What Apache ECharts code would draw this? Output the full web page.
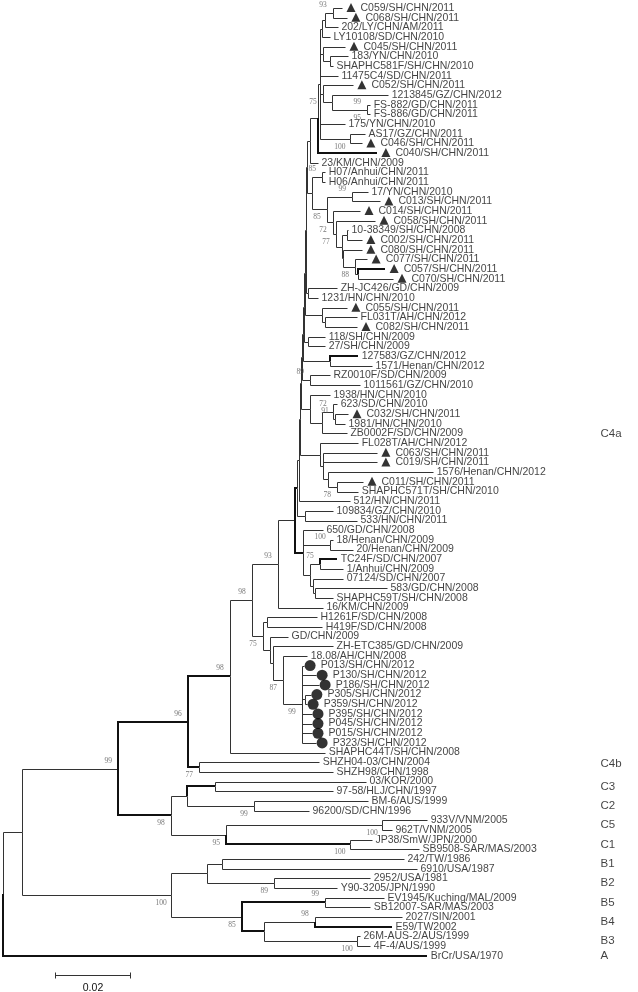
<!DOCTYPE html>
<html><head><meta charset="utf-8">
<script src="https://cdn.jsdelivr.net/npm/echarts@6/dist/echarts.min.js"></script>
<style>html,body{margin:0;padding:0;background:#fff}#c{width:638px;height:992px}</style>
</head><body><div id="c"></div>
<script>
// ---------- DATA ----------
const leafNames = ["C059/SH/CHN/2011","C068/SH/CHN/2011","202/LY/CHN/AM/2011","LY10108/SD/CHN/2010","C045/SH/CHN/2011","183/YN/CHN/2010","SHAPHC581F/SH/CHN/2010","11475C4/SD/CHN/2011","C052/SH/CHN/2011","1213845/GZ/CHN/2012",
"FS-882/GD/CHN/2011","FS-886/GD/CHN/2011","175/YN/CHN/2010","AS17/GZ/CHN/2011","C046/SH/CHN/2011","C040/SH/CHN/2011","23/KM/CHN/2009","H07/Anhui/CHN/2011","H06/Anhui/CHN/2011","17/YN/CHN/2010",
"C013/SH/CHN/2011","C014/SH/CHN/2011","C058/SH/CHN/2011","10-38349/SH/CHN/2008","C002/SH/CHN/2011","C080/SH/CHN/2011","C077/SH/CHN/2011","C057/SH/CHN/2011","C070/SH/CHN/2011","ZH-JC426/GD/CHN/2009",
"1231/HN/CHN/2010","C055/SH/CHN/2011","FL031T/AH/CHN/2012","C082/SH/CHN/2011","118/SH/CHN/2009","27/SH/CHN/2009","127583/GZ/CHN/2012","1571/Henan/CHN/2012","RZ0010F/SD/CHN/2009","1011561/GZ/CHN/2010",
"1938/HN/CHN/2010","623/SD/CHN/2010","C032/SH/CHN/2011","1981/HN/CHN/2010","ZB0002F/SD/CHN/2009","FL028T/AH/CHN/2012","C063/SH/CHN/2011","C019/SH/CHN/2011","1576/Henan/CHN/2012","C011/SH/CHN/2011",
"SHAPHC571T/SH/CHN/2010","512/HN/CHN/2011","109834/GZ/CHN/2010","533/HN/CHN/2011","650/GD/CHN/2008","18/Henan/CHN/2009","20/Henan/CHN/2009","TC24F/SD/CHN/2007","1/Anhui/CHN/2009","07124/SD/CHN/2007",
"583/GD/CHN/2008","SHAPHC59T/SH/CHN/2008","16/KM/CHN/2009","H1261F/SD/CHN/2008","H419F/SD/CHN/2008","GD/CHN/2009","ZH-ETC385/GD/CHN/2009","18.08/AH/CHN/2008","P013/SH/CHN/2012","P130/SH/CHN/2012",
"P186/SH/CHN/2012","P305/SH/CHN/2012","P359/SH/CHN/2012","P395/SH/CHN/2012","P045/SH/CHN/2012","P015/SH/CHN/2012","P323/SH/CHN/2012","SHAPHC44T/SH/CHN/2008","SHZH04-03/CHN/2004","SHZH98/CHN/1998",
"03/KOR/2000","97-58/HLJ/CHN/1997","BM-6/AUS/1999","96200/SD/CHN/1996","933V/VNM/2005","962T/VNM/2005","JP38/SmW/JPN/2000","SB9508-SAR/MAS/2003","242/TW/1986","6910/USA/1987",
"2952/USA/1981","Y90-3205/JPN/1990","EV1945/Kuching/MAL/2009","SB12007-SAR/MAS/2003","2027/SIN/2001","E59/TW2002","26M-AUS-2/AUS/1999","4F-4/AUS/1999","BrCr/USA/1970"];

const leafParents = ["na1","na1","na2","na3","na4","na5","na5","nT2","nC52","nc1",
"nFS","nFS","nT2","nAS","nAS","nT1","nTop","nH","nH","n17",
"n17","nG1","nG2","nG4","nG4","nG5","nG6","nG7","nG7","nZ",
"nZ","nC55","nFC","nFC","n118","n118","n127","n127","nRZ","nRZ",
"n1938","n623","nC32","nC32","nZB","nFL","nC63","nC63","n1576","nC11",
"nC11","B2","n109","n109","nCc","nHen","nHen","nTC","nTC","n07b",
"n07","n07","n93","nH12","nH12","nGD","nZH","n87","nP","nP",
"nP","nP35","nP35","nP","nP","nP","nP","n98b","nC4b","nC4b",
"nC3","nC3","nC2","nC2","nC5","nC5","nC1","nC1","nB1","nB1",
"nB2","nB2","nB5","nB5","nB4","nB4","nB3","nB3","root"];

// distance from root (substitutions/site) of each leaf tip
const leafDepths = [0.0904,0.0917,0.0893,0.0872,0.0912,0.0920,0.0880,0.0893,0.0933,0.1027,
0.0979,0.0979,0.0912,0.0965,0.0957,0.0997,0.0840,0.0859,0.0859,0.0973,
0.1005,0.0952,0.0992,0.0920,0.0957,0.0957,0.0971,0.1019,0.1040,0.0891,
0.0840,0.0917,0.0944,0.0944,0.0859,0.0859,0.0947,0.0984,0.0872,0.0952,
0.0872,0.0891,0.0920,0.0912,0.0917,0.0947,0.0997,0.0997,0.1147,0.0960,
0.0947,0.0925,0.0880,0.0944,0.0853,0.0880,0.0933,0.0891,0.0907,0.0907,
0.1024,0.0880,0.0853,0.0837,0.0851,0.0760,0.0880,0.0811,0.0803,0.0835,
0.0843,0.0821,0.0811,0.0824,0.0824,0.0824,0.0835,0.0859,0.0843,0.0880,
0.0968,0.0880,0.0973,0.0816,0.1131,0.1037,0.0984,0.1109,0.1069,0.1104,
0.0979,0.0891,0.1016,0.0979,0.1064,0.1037,0.0952,0.0979,0.1131];

const triangleRows = [0,1,4,8,14,15,20,21,22,24,25,26,27,28,31,33,42,46,47,49];
const circleRows = [68,69,70,71,72,73,74,75,76];

const nodeNames = ["root","nEV","nB","nB12","nB1","nB2","nB345","nB5","nB34","nB4","nB3","n99","nC","nC23","nC3","nC2","nC15","nC5","nC1","n96","nC4b","n98b","n98a","n93","n75","nH12","nGD","nZH","n87","nP","nP35","B0","nCc","nHen","n75b","nTC","n07b","n07","B1","n109","B2","B3","nFL","nC63","n1576","nC11","B4","n1938","nZB","n623","nC32","B5","nRZ","B6","n127","B7","n118","B8","nC55","nFC","B9","nZ","B10","nTop","nT1","nT2","na3","na2","na1","na4","na5","nC52","nc1","nFS","nAS","nE","nH","nF","n17","nG1","nG2","nG3","nG4","nG5","nG6","nG7"];
const nodeParents = ["","root","nEV","nB","nB12","nB12","nB","nB345","nB345","nB34","nB34","nEV","n99","nC","nC23","nC23","nC","nC15","nC15","n99","n96","n96","n98b","n98a","n98a","n75","n75","nGD","nZH","n87","nP","n93","B0","nCc","nCc","n75b","n75b","n07b","B0","B1","B1","B2","B3","nFL","nC63","n1576","B3","B4","n1938","nZB","n623","B4","B5","B5","B6","B6","B7","B7","B8","nC55","B8","B9","B9","B10","nTop","nT1","nT2","na3","na2","nT2","na4","nT2","nC52","nc1","nT2","B10","nE","nE","nF","nF","nG1","nG2","nG3","nG3","nG5","nG6"];
const nodeDepths = [0,0.0051,0.0448,0.0544,0.0584,0.0723,0.0637,0.0859,0.0696,0.0832,0.0944,0.0307,0.0448,0.0491,0.0565,0.0669,0.0595,0.1011,0.0925,0.0493,0.0523,0.0605,0.0664,0.0733,0.0693,0.0704,0.0712,0.0720,0.0747,0.0797,0.0805,0.0779,0.0800,0.0872,0.0819,0.0845,0.0827,0.0832,0.0784,0.0805,0.0789,0.0792,0.0845,0.0853,0.0867,0.0891,0.0795,0.0819,0.0851,0.0880,0.0885,0.0797,0.0819,0.0800,0.0872,0.0803,0.0813,0.0805,0.0851,0.0859,0.0808,0.0813,0.0811,0.0819,0.0840,0.0845,0.0851,0.0859,0.0880,0.0853,0.0872,0.0853,0.0877,0.0971,0.0925,0.0824,0.0851,0.0864,0.0931,0.0880,0.0888,0.0904,0.0917,0.0907,0.0939,0.0947];

// branches drawn heavier in the figure (named by their child)
const boldBranches = ["BrCr/USA/1970","nC1","nC3","nB5","nB34","E59/TW2002","C040/SH/CHN/2011","C057/SH/CHN/2011","TC24F/SD/CHN/2007","127583/GZ/CHN/2012","B1","nCc","n96","n98b","nC4b","nC"];

const bootNodes = ["na1","nC52","nFS","nFS","nAS","nH","n17","nF","nG1","nG2","nG6","nRZ","n623","nC32","nC11","nHen","nTC","n93","n98a","n75","n87","nP","n98b","n96","n99","nC4b","nC","nC2","nC15","nC5","nC1","nB","nB2","nB5","nB4","nB345","nB3"];
const bootValues = [93,75,99,95,100,85,99,85,72,77,88,89,72,91,78,100,75,93,98,75,87,99,98,96,99,77,98,99,95,100,100,100,89,99,98,85,100];
const bootSides = ["a","b","a","b","b","a","a","b","b","b","b","a","a","a","b","a","a","a","a","b","b","b","a","a","a","b","b","b","b","b","b","b","b","a","a","b","b"];

const groupNames = ["C4a","C4b","C3","C2","C5","C1","B1","B2","B5","B4","B3","A"];
const groupRows = [44,78.2,80.5,82.5,84.5,86.5,88.5,90.5,92.5,94.5,96.5,98];
const groupDepth = 0.1592;

const scaleBarStart = 0.0139, scaleBarLength = 0.02, scaleBarRow = 100, scaleBarText = "0.02";

// ---------- LAYOUT (topology -> y positions) ----------
const idx = {}; nodeNames.forEach((n,i)=>idx[n]=i);
const kids = nodeNames.map(()=>[]);
leafNames.forEach((n,i)=>kids[idx[leafParents[i]]].push({leaf:true,i}));
nodeNames.forEach((n,i)=>{ if(nodeParents[i]) kids[idx[nodeParents[i]]].push({leaf:false,i}); });
const nodeY = [];
function yOf(c){ return c.leaf ? c.i : getY(c.i); }
function getY(i){
  if(nodeY[i]!==undefined) return nodeY[i];
  const ys = kids[i].map(yOf);
  nodeY[i] = (Math.min(...ys)+Math.max(...ys))/2;
  return nodeY[i];
}
nodeNames.forEach((n,i)=>getY(i));

const boldSet = new Set(boldBranches);
const branches = [];
leafNames.forEach((n,i)=>{ const p=idx[leafParents[i]]; branches.push([nodeDepths[p], nodeY[p], leafDepths[i], i, boldSet.has(n)?2:1]); });
nodeNames.forEach((n,i)=>{ if(nodeParents[i]){ const p=idx[nodeParents[i]]; branches.push([nodeDepths[p], nodeY[p], nodeDepths[i], nodeY[i], boldSet.has(n)?2:1]); } });
// draw heavy ones last
branches.sort((a,b)=>a[4]-b[4]);

const tri = new Set(triangleRows), cir = new Set(circleRows);
const plainLabels=[], triLabels=[], cirLabels=[];
leafNames.forEach((n,i)=>{
  const item = {value:[leafDepths[i], i], name:n};
  if(tri.has(i)) triLabels.push(item); else if(cir.has(i)) cirLabels.push(item); else plainLabels.push(item);
});

const bootA=[], bootB=[];
bootNodes.forEach((n,k)=>{
  const i=idx[n]; const item={value:[nodeDepths[i], nodeY[i]], name:String(bootValues[k])};
  (bootSides[k]==='a'?bootA:bootB).push(item);
});

const LINE = '#333';
const leafFont = {fontFamily:'Liberation Sans, Arial, sans-serif', fontSize:10.5, color:'#111'};
const bootFont = {fontFamily:'Liberation Serif, Times New Roman, serif', fontSize:7.5, color:'#555'};

function labelSeries(data, dist){
  return {type:'scatter', data, symbol:'circle', symbolSize:1, itemStyle:{color:'rgba(0,0,0,0)'},
    label:Object.assign({show:true, position:'right', distance:dist, formatter:'{b}'}, leafFont),
    silent:true, z:5};
}
function bootSeries(data, dy){
  return {type:'scatter', data, symbolSize:0, itemStyle:{color:'rgba(0,0,0,0)'},
    label:Object.assign({show:true, position:'inside', offset:[-10, dy], formatter:'{b}'}, bootFont),
    silent:true, z:6};
}

const option = {
  animation:false,
  backgroundColor:'#fff',
  grid:{left:3, top:8, width:630, height:976.67},
  xAxis:{type:'value', min:0, max:0.168, show:false},
  yAxis:{type:'value', min:0, max:101, inverse:true, show:false},
  series:[
    {type:'custom', data:branches, encode:{x:[0,2], y:[1,3]}, clip:false, silent:true, z:2,
     renderItem:(params, api)=>{
       const lw = api.value(4);
       const o = lw % 2 ? 0.5 : 0;
       const r = v => Math.round(v) + o;
       const a=api.coord([api.value(0), api.value(1)]);
       const b=api.coord([api.value(0), api.value(3)]);
       const c=api.coord([api.value(2), api.value(3)]);
       return {type:'polyline', shape:{points:[[r(a[0]),r(a[1])],[r(b[0]),r(b[1])],[r(c[0]),r(c[1])]]},
               style:{stroke: lw>1 ? '#111' : LINE, lineWidth:lw, fill:null, lineJoin:'miter'}};
     }},
    labelSeries(plainLabels, 3),
    labelSeries(triLabels, 18),
    labelSeries(cirLabels, 16),
    {type:'scatter', data:triangleRows.map(i=>[leafDepths[i], i]), symbol:'triangle', symbolSize:[9,9],
     symbolOffset:[9,-0.5], itemStyle:{color:'#000'}, silent:true, z:4},
    {type:'scatter', data:circleRows.map(i=>[leafDepths[i], i]), symbol:'circle', symbolSize:11,
     symbolOffset:[6,0], itemStyle:{color:'#000'}, silent:true, z:4},
    bootSeries(bootA, -8),
    bootSeries(bootB, 8),
    {type:'scatter', data:groupNames.map((g,k)=>({value:[groupDepth, groupRows[k]], name:g})),
     symbolSize:1, itemStyle:{color:'rgba(0,0,0,0)'},
     label:{show:true, position:'right', distance:0, formatter:'{b}', fontFamily:'Liberation Sans, Arial, sans-serif', fontSize:11.5, color:'#111'},
     silent:true},
    {type:'custom', data:[[scaleBarStart, scaleBarRow, scaleBarStart+scaleBarLength]], encode:{x:[0,2], y:1}, clip:false, silent:true,
     renderItem:(params, api)=>{
       const a=api.coord([api.value(0), api.value(1)]);
       const b=api.coord([api.value(2), api.value(1)]);
       const cr = v => Math.round(v)+0.5;
       const y=cr(a[1]), x0=cr(a[0]), x1=cr(b[0]);
       return {type:'group', children:[
         {type:'line', shape:{x1:x0,y1:y,x2:x1,y2:y}, style:{stroke:LINE, lineWidth:1}},
         {type:'line', shape:{x1:x0,y1:y-3,x2:x0,y2:y+3}, style:{stroke:LINE, lineWidth:1}},
         {type:'line', shape:{x1:x1,y1:y-3,x2:x1,y2:y+3}, style:{stroke:LINE, lineWidth:1}},
         {type:'text', style:{text:scaleBarText, x:(x0+x1)/2, y:y+7, align:'center', verticalAlign:'top',
           font:'10.5px Liberation Sans, Arial, sans-serif', fill:'#111'}}
       ]};
     }}
  ]
};
const chart = echarts.init(document.getElementById('c'));
chart.setOption(option);
</script></body></html>
